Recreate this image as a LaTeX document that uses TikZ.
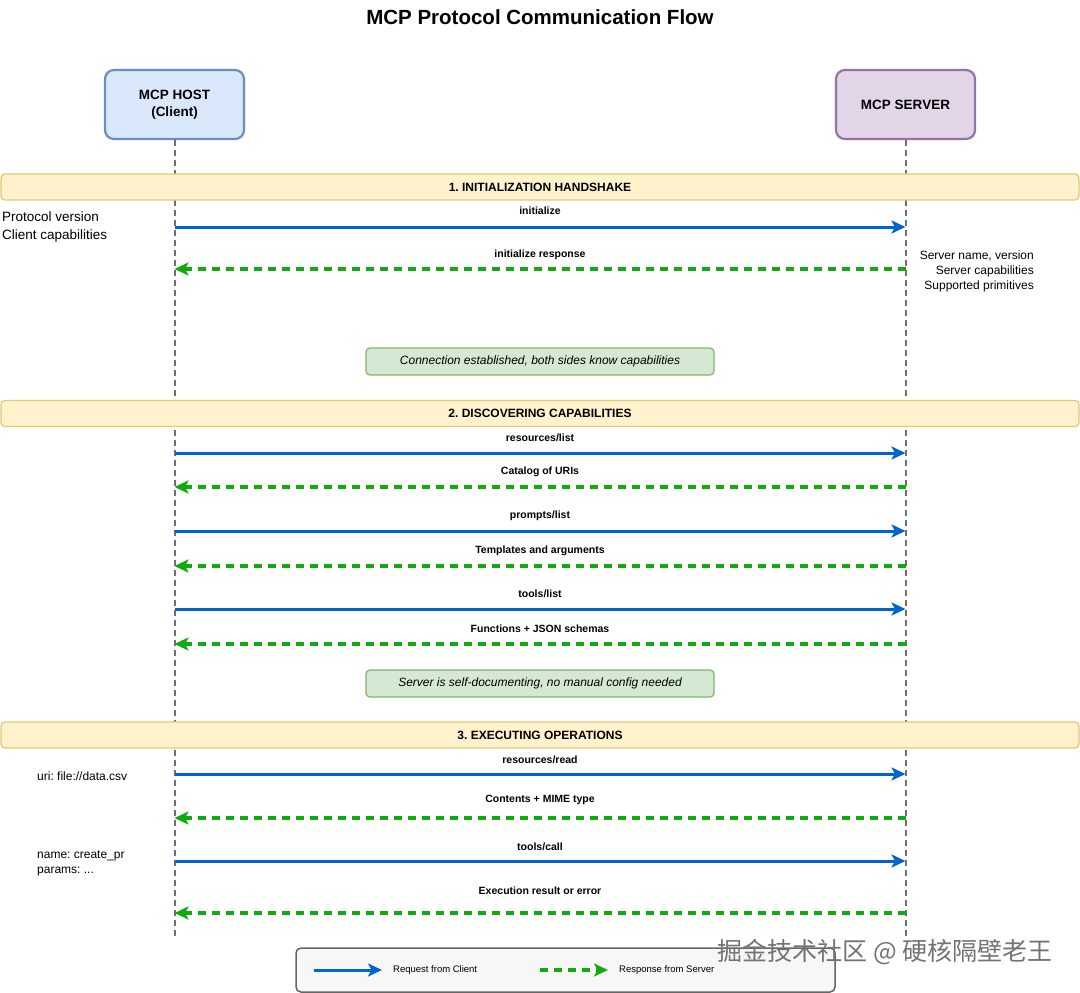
\documentclass[tikz,border=0pt]{standalone}
\usepackage{fontspec}
\setmainfont{Liberation Sans}
\newfontfamily\cjkfont{Noto Sans CJK SC}
\usepackage{xcolor}
\usetikzlibrary{arrows.meta}
\frenchspacing
\definecolor{hostfill}{HTML}{DAE8FC}
\definecolor{hostline}{HTML}{6C8EBF}
\definecolor{serverfill}{HTML}{E1D5E7}
\definecolor{serverline}{HTML}{9673A6}
\definecolor{phasefill}{HTML}{FFF2CC}
\definecolor{phaseline}{HTML}{E0C878}
\definecolor{notefill}{HTML}{D5E8D4}
\definecolor{noteline}{HTML}{82B366}
\definecolor{reqblue}{HTML}{0066CC}
\definecolor{resgreen}{HTML}{11AA11}
\definecolor{lifegray}{HTML}{707070}

\tikzset{
  actor/.style={rectangle, rounded corners=9pt, line width=2.2pt, minimum width=139pt,
    minimum height=69pt, align=center, font=\fontsize{13.5}{17}\selectfont\bfseries},
  lifeline/.style={draw=lifegray, line width=2pt, dash pattern=on 6pt off 4pt},
  phase/.style={rectangle, rounded corners=4pt, fill=phasefill, draw=phaseline, line width=1.2pt,
    minimum width=1078pt, minimum height=26pt, font=\fontsize{12}{14}\selectfont\bfseries},
  request/.style={draw=reqblue, line width=3pt, -{Stealth[length=14pt,width=13pt,inset=3.5pt]}},
  response/.style={draw=resgreen, line width=3.2pt, dash pattern=on 8pt off 6pt,
    -{Stealth[length=14pt,width=13pt,inset=3.5pt]}},
  msg/.style={font=\fontsize{10.5}{12}\selectfont\bfseries, fill=white, inner sep=1pt},
  remark/.style={font=\fontsize{13.5}{18}\selectfont, align=left, anchor=west, inner sep=0pt},
  detail/.style={font=\fontsize{12}{15}\selectfont, inner sep=0pt},
  outcome/.style={rectangle, rounded corners=4pt, fill=notefill, draw=noteline, line width=1.2pt,
    minimum width=348pt, minimum height=27pt, font=\fontsize{12}{14}\selectfont\itshape},
  keybox/.style={rectangle, rounded corners=5pt, fill=black!3, draw=black!60, line width=1.5pt,
    minimum width=539pt, minimum height=44pt},
  keytext/.style={font=\fontsize{9.5}{11}\selectfont, anchor=west, inner sep=0pt}
}

\begin{document}
\begin{tikzpicture}[x=1pt,y=-1pt]
\useasboundingbox (0,0) rectangle (1080,993);%

% Drawing title and participants
\node[font=\fontsize{20.5}{24}\selectfont\bfseries] (title) at (540,17) {MCP Protocol Communication Flow};%
\node[actor, fill=hostfill, draw=hostline] (host) at (174.5,104.5) {MCP HOST\\(Client)};%
\node[actor, fill=serverfill, draw=serverline] (server) at (905.5,104.5) {MCP SERVER};%

% Drawing lifelines
\coordinate (hostend) at (174.5,940);%
\coordinate (serverend) at (905.5,940);%
\draw[lifeline] (host.south) -- (hostend);%
\draw[lifeline] (server.south) -- (serverend);%

% Drawing phase 1
\node[phase] (phaseA) at (540,187) {1. INITIALIZATION HANDSHAKE};%
\coordinate (h1) at (174.5,227); \coordinate (s1) at (905.5,227);%
\draw[request] (h1) -- (s1);%
\node[msg] (m1) at (540,211) {initialize};%
\coordinate (h2) at (174.5,269); \coordinate (s2) at (905.5,269);%
\draw[response] (s2) -- (h2);%
\node[msg] (m2) at (540,255) {initialize response};%
\node[remark] (clientinfo) at (2,227.5) {Protocol version\\Client capabilities};%
\node[detail, align=right, anchor=east] (serverinfo) at (1034,271) {Server name, version\\Server capabilities\\Supported primitives};%
\node[outcome] (noteA) at (540,361.5) {Connection established, both sides know capabilities};%

% Drawing phase 2
\node[phase] (phaseB) at (540,413.5) {2. DISCOVERING CAPABILITIES};%
\coordinate (h3) at (174.5,453); \coordinate (s3) at (905.5,453);%
\draw[request] (h3) -- (s3);%
\node[msg] (m3) at (540,437.5) {resources/list};%
\coordinate (h4) at (174.5,487); \coordinate (s4) at (905.5,487);%
\draw[response] (s4) -- (h4);%
\node[msg] (m4) at (540,472) {Catalog of URIs};%
\coordinate (h5) at (174.5,531); \coordinate (s5) at (905.5,531);%
\draw[request] (h5) -- (s5);%
\node[msg] (m5) at (540,516) {prompts/list};%
\coordinate (h6) at (174.5,566); \coordinate (s6) at (905.5,566);%
\draw[response] (s6) -- (h6);%
\node[msg] (m6) at (540,551) {Templates and arguments};%
\coordinate (h7) at (174.5,609); \coordinate (s7) at (905.5,609);%
\draw[request] (h7) -- (s7);%
\node[msg] (m7) at (540,594) {tools/list};%
\coordinate (h8) at (174.5,644); \coordinate (s8) at (905.5,644);%
\draw[response] (s8) -- (h8);%
\node[msg] (m8) at (540,629) {Functions + JSON schemas};%
\node[outcome] (noteB) at (540,683.5) {Server is self-documenting, no manual config needed};%

% Drawing phase 3
\node[phase] (phaseC) at (540,735) {3. EXECUTING OPERATIONS};%
\coordinate (h9) at (174.5,774); \coordinate (s9) at (905.5,774);%
\draw[request] (h9) -- (s9);%
\node[msg] (m9) at (540,759.5) {resources/read};%
\coordinate (h10) at (174.5,818); \coordinate (s10) at (905.5,818);%
\draw[response] (s10) -- (h10);%
\node[msg] (m10) at (540,799.5) {Contents + MIME type};%
\coordinate (h11) at (174.5,861); \coordinate (s11) at (905.5,861);%
\draw[request] (h11) -- (s11);%
\node[msg] (m11) at (540,846.5) {tools/call};%
\coordinate (h12) at (174.5,913); \coordinate (s12) at (905.5,913);%
\draw[response] (s12) -- (h12);%
\node[msg] (m12) at (540,890.5) {Execution result or error};%
\node[detail, anchor=west] (readargs) at (37,776) {uri: file://data.csv};%
\node[detail, anchor=west, align=left] (callargs) at (37,863) {name: create\_pr\\params: ...};%

% Drawing legend
\node[keybox] (key) at (565.5,970) {};%
\coordinate (k1) at (314,970); \coordinate (k2) at (382,970);%
\draw[request] (k1) -- (k2);%
\node[keytext] (keyreq) at (393,970) {Request from Client};%
\coordinate (k3) at (540,970); \coordinate (k4) at (608,970);%
\draw[response] (k3) -- (k4);%
\node[keytext] (keyres) at (619,970) {Response from Server};%

\node[font=\cjkfont\fontsize{25}{28}\selectfont, text=black!55, inner sep=0pt] (mark) at (885,952) {掘金技术社区 @ 硬核隔壁老王};%
\end{tikzpicture}
\end{document}
